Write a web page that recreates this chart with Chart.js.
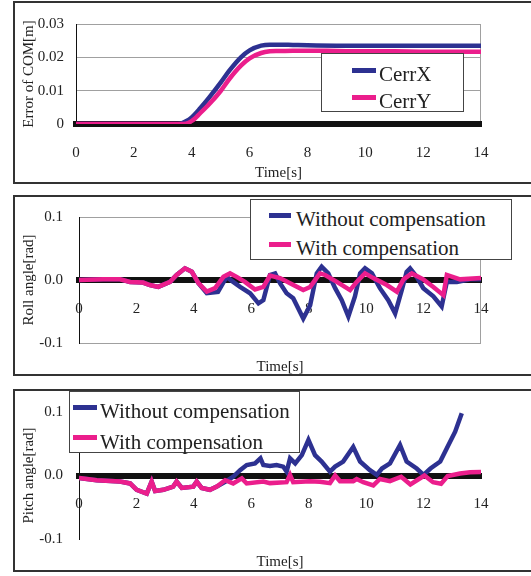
<!DOCTYPE html>
<html>
<head>
<meta charset="utf-8">
<script src="https://cdn.jsdelivr.net/npm/chart.js@4.4.1/dist/chart.umd.min.js"></script>
<style>
body { margin: 0; background: #fff; width: 531px; height: 576px; overflow: hidden; position: relative; font-family: 'Liberation Serif', 'Times New Roman', serif; }
.panel { position: absolute; left: 13px; width: 540px; border: 2px solid #333; box-sizing: border-box; }
canvas { position: absolute; left: 0; }
.legend { position: absolute; background: #fff; border: 1px solid #444; box-sizing: border-box; }
.legend .bar { position: absolute; height: 5px; }
.legend .txt { position: absolute; font-size: 21px; line-height: 21px; color: #222; white-space: nowrap; }
</style>
</head>
<body>
<div class="panel" style="top:1px;height:183px"></div>
<div class="panel" style="top:195px;height:181px"></div>
<div class="panel" style="top:389px;height:183px"></div>
<canvas id="c1" width="531" height="186" style="top:0"></canvas>
<canvas id="c2" width="531" height="190" style="top:190px"></canvas>
<canvas id="c3" width="531" height="191" style="top:385px"></canvas>
<script>
// --- data ---
const comNames = ['CerrX', 'CerrY'];
const comTicks = ['0', '0.01', '0.02', '0.03'];
const comTime = [0, 1, 2, 3, 3.4, 3.6, 3.8, 4.0, 4.3, 4.6, 5.0, 5.3, 5.7, 6.0, 6.4, 6.7, 7.0, 7.5, 8, 9, 10, 11, 12, 13, 14];
const cerrX = [0, 0, 0, 0, 0, 0.0001, 0.0008, 0.002, 0.0048, 0.0079, 0.0124, 0.016, 0.02, 0.0221, 0.0235, 0.0238, 0.0238, 0.0237, 0.0236, 0.0235, 0.0235, 0.0235, 0.0235, 0.0235, 0.0235];
const cerrY = [0, 0, 0, 0, 0, 0, 0.0001, 0.0009, 0.0033, 0.0059, 0.0099, 0.0135, 0.0175, 0.0197, 0.0213, 0.0218, 0.0219, 0.022, 0.022, 0.0219, 0.0218, 0.0218, 0.0217, 0.0217, 0.0217];

const compNames = ['Without compensation', 'With compensation'];
const angleTicks = ['-0.1', '0.0', '0.1'];

const rollTimeWithout = [0, 0.85, 1.43, 1.78, 2.23, 2.47, 2.76, 3.17, 3.40, 3.69, 3.93, 4.16, 4.45, 4.84, 5.14, 5.37, 5.61, 5.96, 6.25, 6.42, 6.65, 6.83, 7.0, 7.23, 7.46, 7.81, 8.05, 8.28, 8.45, 8.68, 8.92, 9.15, 9.38, 9.61, 9.79, 9.96, 10.2, 10.48, 10.77, 11.01, 11.24, 11.41, 11.53, 11.76, 11.99, 12.34, 12.63, 12.81, 13.16, 13.62, 14];
const rollWithout = [0, 0.001, 0.001, -0.003, -0.004, -0.008, -0.011, -0.003, 0.008, 0.0185, 0.013, -0.005, -0.021, -0.019, 0.005, -0.003, -0.011, -0.021, -0.037, -0.032, 0.008, 0.0105, -0.005, -0.021, -0.029, -0.061, -0.04, 0.0105, 0.021, 0.0105, -0.013, -0.032, -0.058, -0.026, 0.0105, 0.0185, 0.0105, -0.013, -0.032, -0.053, -0.016, 0.013, 0.0185, 0.005, -0.013, -0.026, -0.042, -0.003, -0.003, 0.001, 0.001];
const rollTimeWith = [0, 0.85, 1.43, 1.78, 2.23, 2.47, 2.76, 3.17, 3.40, 3.69, 3.93, 4.16, 4.45, 4.74, 5.03, 5.26, 5.49, 5.78, 6.13, 6.42, 6.65, 7.0, 7.35, 7.81, 8.05, 8.39, 8.57, 8.98, 9.44, 9.67, 9.96, 10.25, 10.72, 11.07, 11.3, 11.59, 11.99, 12.34, 12.69, 12.81, 13.27, 14];
const rollWith = [0, 0.001, 0.001, -0.003, -0.004, -0.008, -0.011, -0.003, 0.008, 0.0185, 0.013, -0.005, -0.0185, -0.013, 0.005, 0.0105, 0.005, -0.003, -0.015, -0.011, 0.007, 0.003, -0.005, -0.016, -0.011, 0.0105, 0.008, -0.003, -0.016, -0.003, 0.0105, 0.003, -0.008, -0.0185, 0.001, 0.0105, 0.001, -0.011, -0.024, 0.008, 0.001, 0.003];

const pitchTimeWithout = [0, 0.62, 1.43, 1.78, 2.01, 2.36, 2.53, 2.65, 2.94, 3.28, 3.40, 3.58, 3.98, 4.1, 4.27, 4.56, 4.8, 5.09, 5.37, 5.61, 5.84, 6.13, 6.32, 6.42, 6.65, 6.88, 7.11, 7.23, 7.35, 7.53, 7.76, 7.99, 8.22, 8.45, 8.74, 8.92, 9.2, 9.55, 9.79, 10.13, 10.37, 10.55, 10.83, 11.18, 11.41, 11.76, 12.0, 12.24, 12.58, 12.81, 13.1, 13.33];
const pitchWithout = [-0.004, -0.0075, -0.0095, -0.0125, -0.0225, -0.0285, -0.0095, -0.0245, -0.0225, -0.0175, -0.0095, -0.0195, -0.0175, -0.0095, -0.0195, -0.0225, -0.0175, -0.01, -0.002, 0.0085, 0.0165, 0.019, 0.027, 0.0165, 0.015, 0.0165, 0.014, 0.006, 0.027, 0.019, 0.032, 0.056, 0.032, 0.022, 0.006, 0.014, 0.022, 0.045, 0.022, 0.0085, 0.001, 0.011, 0.019, 0.048, 0.022, 0.011, 0.001, 0.011, 0.022, 0.043, 0.069, 0.098];
const pitchTimeWith = [0, 0.62, 1.43, 1.78, 2.01, 2.36, 2.53, 2.65, 2.94, 3.28, 3.40, 3.58, 3.98, 4.1, 4.27, 4.56, 4.8, 5.09, 5.37, 5.67, 5.84, 6.42, 6.65, 7.23, 7.35, 7.46, 8.05, 8.39, 8.74, 8.92, 9.09, 9.55, 9.67, 9.9, 10.25, 10.48, 10.83, 11.22, 11.54, 12.03, 12.33, 12.61, 12.84, 13.27, 13.62, 14];
const pitchWith = [-0.004, -0.0075, -0.0095, -0.0125, -0.0225, -0.0285, -0.0095, -0.0245, -0.0225, -0.0175, -0.0095, -0.0195, -0.0175, -0.0095, -0.0195, -0.0225, -0.0175, -0.0075, -0.0125, -0.0045, -0.0125, -0.0095, -0.012, -0.0105, 0.001, -0.0105, -0.009, -0.01, -0.012, 0.0, -0.009, -0.009, -0.0055, -0.0105, -0.0155, -0.0055, -0.009, -0.002, -0.014, 0.0, -0.0105, -0.013, -0.001, 0.003, 0.005, 0.0055];

const BLUE = '#2d3191';
const PINK = '#eb1e8c';

Chart.defaults.font.family = "'Liberation Serif', 'Times New Roman', serif";
Chart.defaults.font.size = 15;
Chart.defaults.color = '#222';

function pairs(t, v) {
  return t.map((x, i) => ({ x: x, y: v[i] }));
}

// grey frame round the plot area (Excel plot-area border)
const frame = {
  id: 'frame',
  beforeDraw(chart, args, opts) {
    if (!opts.color) return;
    const a = chart.chartArea;
    const c = chart.ctx;
    c.save();
    c.strokeStyle = opts.color;
    c.lineWidth = 1;
    c.strokeRect(a.left + 0.5, a.top + 0.5, a.width - 1, a.height);
    c.restore();
  }
};

function line(label, t, v, color, order) {
  return { label: label, data: pairs(t, v), borderColor: color, backgroundColor: color, borderWidth: 4.5, order: order, xAxisID: 'x', yAxisID: 'y' };
}

// ---- chart 1 : error of COM ----
const ctx1 = document.getElementById('c1');
new Chart(ctx1, {
  type: 'line',
  data: {
    datasets: [
      Object.assign(line(comNames[0], comTime, cerrX, BLUE, 2), { cubicInterpolationMode: 'monotone' }),
      Object.assign(line(comNames[1], comTime, cerrY, PINK, 1), { cubicInterpolationMode: 'monotone' })
    ]
  },
  options: {
    responsive: false,
    animation: false,
    layout: { padding: { left: 0, right: 50, top: 24, bottom: 0 } },
    elements: { point: { radius: 0 } },
    plugins: { legend: { display: false }, tooltip: { enabled: false }, frame: { color: '#a0a0a0' } },
    scales: {
      x: {
        type: 'linear', min: 0, max: 14,
        ticks: { stepSize: 2, padding: 20 },
        grid: { display: false, drawTicks: false },
        border: { color: '#111', width: 6 },
        title: { display: true, text: 'Time[s]', padding: { top: 0, bottom: 4 } },
        afterFit: s => { s.height = 62; }
      },
      y: {
        min: 0, max: 0.03,
        ticks: { stepSize: 0.01, padding: 12, callback: (v, i) => comTicks[i] },
        grid: { color: '#a0a0a0', drawTicks: false },
        border: { color: '#111', width: 1 },
        title: { display: true, text: 'Error of COM[m]', padding: { top: 20, bottom: 0 } },
        afterFit: s => { s.width = 76; }
      }
    }
  },
  plugins: [frame]
});

function angleOptions(yTitle, framed, titlePad) {
  return {
    responsive: false,
    animation: false,
    layout: { padding: { left: 0, right: 50, top: 27, bottom: 0 } },
    elements: { point: { radius: 0 }, line: { tension: 0 } },
    plugins: { legend: { display: false }, tooltip: { enabled: false }, frame: { color: framed ? '#a0a0a0' : null } },
    scales: {
      x: {
        type: 'linear', position: { y: 0 }, min: 0, max: 14,
        ticks: { stepSize: 2, padding: 20 },
        grid: { display: false, drawTicks: false },
        border: { color: '#111', width: 6 }
      },
      xt: {
        type: 'linear', position: 'bottom', min: 0, max: 14,
        ticks: { display: false },
        grid: { display: false, drawTicks: false },
        border: { display: false },
        title: { display: true, text: 'Time[s]', padding: { top: 0, bottom: titlePad } },
        afterFit: s => { s.height = 37; }
      },
      y: {
        min: -0.1, max: 0.1,
        ticks: { stepSize: 0.1, padding: 16, callback: (v, i) => angleTicks[i] },
        grid: { display: false, drawTicks: false },
        border: { color: '#111', width: 1 },
        title: { display: true, text: yTitle, padding: { top: 20, bottom: 0 } },
        afterFit: s => { s.width = 79; }
      }
    }
  };
}

// ---- chart 2 : roll angle ----
const ctx2 = document.getElementById('c2');
new Chart(ctx2, {
  type: 'line',
  data: {
    datasets: [
      line(compNames[0], rollTimeWithout, rollWithout, BLUE, 2),
      line(compNames[1], rollTimeWith, rollWith, PINK, 1)
    ]
  },
  options: angleOptions('Roll angle[rad]', true, 4),
  plugins: [frame]
});

// ---- chart 3 : pitch angle ----
const ctx3 = document.getElementById('c3');
new Chart(ctx3, {
  type: 'line',
  data: {
    datasets: [
      line(compNames[0], pitchTimeWithout, pitchWithout, BLUE, 2),
      line(compNames[1], pitchTimeWith, pitchWith, PINK, 1)
    ]
  },
  options: angleOptions('Pitch angle[rad]', false, 5),
  plugins: [frame]
});

// ---- legends (boxes placed like the original) ----
function legend(box, names, colors, barX, barW, textX, rowsY) {
  const d = document.createElement('div');
  d.className = 'legend';
  d.style.left = box[0] + 'px';
  d.style.top = box[1] + 'px';
  d.style.width = box[2] + 'px';
  d.style.height = box[3] + 'px';
  names.forEach((n, i) => {
    const bar = document.createElement('div');
    bar.className = 'bar';
    bar.style.left = barX + 'px';
    bar.style.width = barW + 'px';
    bar.style.top = (rowsY[i] - 2.5) + 'px';
    bar.style.background = colors[i];
    const t = document.createElement('div');
    t.className = 'txt';
    t.textContent = n;
    t.style.left = textX + 'px';
    t.style.top = (rowsY[i] - 5.6) + 'px';
    d.appendChild(bar);
    d.appendChild(t);
  });
  document.body.appendChild(d);
}

legend([321, 53, 143, 59], comNames, [BLUE, PINK], 30, 24, 57, [16, 43]);
legend([250, 199, 262, 61], compNames, [BLUE, PINK], 18, 22, 45, [15, 44]);
legend([69, 391, 231, 62], compNames, [BLUE, PINK], 3, 24, 30, [15, 45.5]);
</script>
</body>
</html>
